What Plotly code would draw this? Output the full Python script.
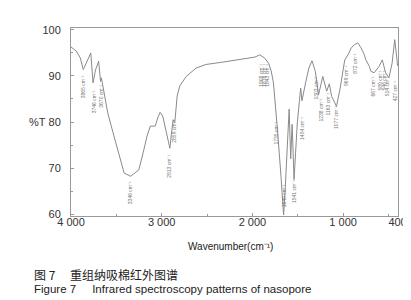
import plotly.graph_objects as go

# ---- data ----
wavenumber = [4000, 3941, 3897, 3865, 3832, 3782, 3757, 3730, 3695, 3674, 3665, 3649, 3595, 3541,
              3486, 3414, 3342, 3252, 3205, 3162, 3126, 3072, 3043, 3018, 2989, 2946, 2910, 2892,
              2874, 2856, 2830, 2802, 2730, 2622, 2514, 2333, 2153, 1973, 1919, 1865, 1822, 1793,
              1768, 1739, 1721, 1685, 1656, 1638, 1616, 1595, 1578, 1562, 1541, 1519, 1505, 1468,
              1454, 1414, 1378, 1343, 1306, 1271, 1224, 1181, 1152, 1127, 1090, 1073, 1036, 1000,
              982, 946, 911, 874, 838, 802, 766, 749, 711, 694, 658, 603, 568, 532, 495, 460, 431,
              406, 400]
transmittance = [96.3, 95.4, 93.9, 91.4, 92.8, 95.0, 88.5, 91.3, 93.2, 88.8, 89.6, 87.8, 82.0, 78.0,
                 74.0, 68.9, 68.2, 69.6, 73.3, 76.9, 79.1, 79.1, 80.9, 82.1, 81.3, 77.6, 74.3, 77.6,
                 80.5, 79.8, 85.6, 87.8, 89.9, 91.7, 92.5, 93.0, 93.5, 94.1, 94.6, 93.9, 92.8, 91.1,
                 88.5, 82.7, 77.6, 68.2, 59.8, 65.7, 76.5, 82.8, 72.0, 79.5, 67.5, 74.3, 79.8, 87.4,
                 84.6, 88.5, 91.7, 93.3, 91.0, 85.9, 89.9, 86.7, 88.3, 85.6, 84.1, 83.4, 87.0, 91.0,
                 93.5, 94.6, 96.1, 96.8, 97.2, 96.1, 94.6, 93.5, 92.1, 91.0, 90.7, 92.1, 93.5, 90.7,
                 89.6, 92.8, 97.9, 93.5, 92.2]

peak_wavenumbers = [3865, 3746, 3670, 3346, 2913, 2859, 1908, 1876, 1843, 1735, 1649, 1541, 1454,
                    1303, 1238, 1163, 1077, 969, 872, 667, 589, 546, 514, 427]

x_tick_values = [4000, 3000, 2000, 1000, 400]
x_tick_labels = ["4 000", "3 000", "2 000", "1 000", "400"]
y_tick_values = [60, 70, 80, 90, 100]
y_tick_labels = ["60", "70", "80", "90", "100"]

# label placement (layout only): centre of each vertical label in %T
label_centres = [87.6, 84.3, 85.7, 64.6, 70.4, 78.0, 90.2, 90.2, 90.2, 77.6, 63.9, 64.8, 78.7,
                 87.4, 82.6, 83.9, 80.9, 90.0, 92.6, 87.8, 89.1, 89.1, 87.8, 86.7]

fig = go.Figure()
fig.add_trace(go.Scatter(x=wavenumber, y=transmittance, mode="lines",
                         line=dict(color="#8a8a8a", width=1), hoverinfo="skip",
                         showlegend=False))

annotations = []
for wn, yc in zip(peak_wavenumbers, label_centres):
    annotations.append(dict(x=wn, y=yc, xref="x", yref="y", text=f"{wn} cm⁻¹",
                            textangle=-90, showarrow=False,
                            font=dict(family="Liberation Sans", size=5, color="#777")))

fig.update_layout(
    width=411, height=300,
    margin=dict(l=63, r=15, t=20, b=92),
    paper_bgcolor="white", plot_bgcolor="white",
    font=dict(family="Liberation Sans", size=11, color="#333"),
)

fig.update_xaxes(range=[4000, 395], tickmode="array", tickvals=x_tick_values,
                 ticktext=x_tick_labels, ticks="inside", ticklen=3, tickcolor="#999",
                 showline=True, linecolor="#999", linewidth=1, mirror=True,
                 showgrid=False, zeroline=False, ticklabelstandoff=-4,
                 tickfont=dict(size=11, color="#333"),
                 minor=dict(tickvals=[3500, 2500, 1500, 500], ticks="inside", ticklen=2,
                            tickcolor="#999"))
fig.update_yaxes(range=[59.57, 100.43], tickmode="array", tickvals=y_tick_values,
                 ticktext=y_tick_labels, ticks="inside", ticklen=3, tickcolor="#999",
                 showline=True, linecolor="#999", linewidth=1, mirror=True,
                 showgrid=False, zeroline=False, ticklabelstandoff=7,
                 tickfont=dict(size=11, color="#333"),
                 minor=dict(tickvals=[65, 75, 85, 95], ticks="inside", ticklen=2,
                            tickcolor="#999"))

# pixel helpers via paper coordinates
pw = 411 - 63 - 15
ph = 300 - 20 - 92
def px(x):
    return (x - 63) / pw
def py(y):
    return (300 - 92 - y) / ph

annotations += [
    dict(x=px(29), y=py(114), xref="paper", yref="paper", xanchor="center", yanchor="middle",
         text="%T", showarrow=False, font=dict(size=11, color="#333")),
    dict(x=px(225), y=py(238), xref="paper", yref="paper", xanchor="center", yanchor="middle",
         text="Wavenumber(cm⁻¹)", showarrow=False, font=dict(size=10, color="#222")),
    dict(x=px(23), y=py(266), xref="paper", yref="paper", xanchor="left", yanchor="middle",
         text="图 7　 重组纳吸棉红外图谱", showarrow=False,
         font=dict(family="Noto Sans CJK SC", size=12, color="#222")),
    dict(x=px(23), y=py(281), xref="paper", yref="paper", xanchor="left", yanchor="middle",
         text="Figure 7     Infrared spectroscopy patterns of nasopore", showarrow=False,
         font=dict(family="Liberation Sans", size=11.5, color="#222")),
]
fig.update_layout(annotations=annotations)

fig.write_html("out.html")
